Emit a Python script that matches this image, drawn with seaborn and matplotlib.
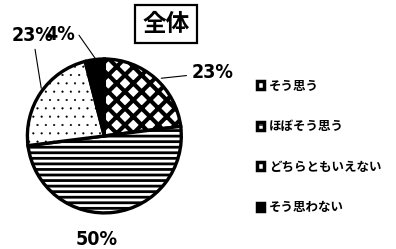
import matplotlib.pyplot as plt
import seaborn as sns
from matplotlib.patches import Patch

sns.set_theme(style="white")
plt.rcParams['font.family'] = ['Noto Sans CJK JP', 'DejaVu Sans']
plt.rcParams['text.color'] = 'black'
plt.rcParams['hatch.color'] = 'black'

# data
categories = ['そう思う', 'ほぼそう思う', 'どちらともいえない', 'そう思わない']
values = [23, 50, 23, 4]
pct_labels = ['23%', '50%', '23%', '4%']
hatches = ['xx', '---', '..', '']
hatch_lw = [3.0, 2.0, 0.3, 1.0]
faces = ['white', 'white', 'white', 'black']

# label positions (radius units) for each slice
label_pos = [(1.40, 0.82), (-0.10, -1.35), (-0.93, 1.31), (-0.58, 1.32)]

fig = plt.figure(figsize=(3.96, 2.49), dpi=100)
ax = fig.add_axes([-0.028, -0.010, 0.583, 0.928])

wedges, _ = ax.pie(values, startangle=90, counterclock=False,
                   colors=faces, radius=1.0,
                   wedgeprops=dict(edgecolor='black', linewidth=2.4))
for w, h, lw in zip(wedges, hatches, hatch_lw):
    w.set_hatch(h)
    if hasattr(w, 'set_hatch_linewidth'):
        w.set_hatch_linewidth(lw)
    else:
        w._hatch_linewidth = lw

ax.set_xlim(-1.5, 1.5)
ax.set_ylim(-1.5, 1.5)
ax.set_aspect('equal')
ax.axis('off')

pfont = dict(family='DejaVu Sans', stretch='condensed',
             fontsize=14, fontweight='bold', color='black')
# right 23%
ax.annotate(pct_labels[0], xy=(0.74, 0.75), xytext=label_pos[0],
            ha='center', va='center', **pfont,
            arrowprops=dict(arrowstyle='-', color='black', lw=0.8,
                            shrinkA=1, shrinkB=0))
# 50%
ax.text(*label_pos[1], pct_labels[1], ha='center', va='center', **pfont)
# left 23%
ax.annotate(pct_labels[2], xy=(-0.82, 0.62), xytext=label_pos[2],
            ha='center', va='center', **pfont,
            arrowprops=dict(arrowstyle='-', color='black', lw=0.8,
                            shrinkA=1, shrinkB=0))
# 4%
ax.annotate(pct_labels[3], xy=(-0.12, 1.01), xytext=label_pos[3],
            ha='center', va='center', **pfont,
            arrowprops=dict(arrowstyle='-', color='black', lw=0.8,
                            connectionstyle='angle,angleA=0,angleB=-55,rad=0',
                            shrinkA=1, shrinkB=0))

fig.text(0.419, 0.904, '全体', ha='center', va='center', fontsize=17,
         fontweight='bold', color='black',
         bbox=dict(boxstyle='square,pad=0.3', fc='white', ec='black', lw=1.6))

handles = [Patch(facecolor=f, edgecolor='black', hatch=h, linewidth=2.5)
           for f, h in zip(faces, ['', '---', '', ''])]
fig.legend(handles, categories, loc='upper left', bbox_to_anchor=(0.62, 0.725),
           frameon=False, handlelength=0.6, handleheight=0.6,
           handletextpad=0.35, labelspacing=2.2, labelcolor='black',
           prop=dict(size=9, weight='bold'))

fig.savefig('out.png', dpi=100)
